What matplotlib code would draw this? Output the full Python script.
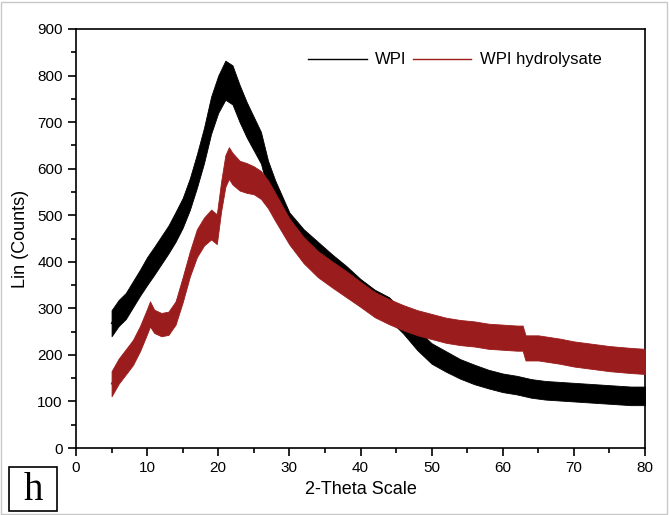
import matplotlib
matplotlib.use("Agg")
import matplotlib.pyplot as plt
from matplotlib.ticker import MultipleLocator
from matplotlib.patches import Rectangle

# values (2-theta in degrees, counts)
wpi_x = [5, 6, 7, 8, 9, 10, 11, 12, 13, 14, 15, 16, 17, 18, 19, 20, 21, 22, 23, 24,
         25, 26, 27, 28, 30, 32, 34, 36, 38, 40, 42, 44, 46, 48, 50, 52, 54, 56,
         58, 60, 62, 64, 66, 68, 70, 72, 75, 78, 80]
wpi_y = [268, 290, 305, 330, 355, 380, 402, 425, 448, 475, 505, 545, 595, 650, 715, 760, 790, 780, 740, 705,
         675, 645, 585, 545, 478, 442, 415, 390, 365, 338, 315, 300, 270, 232, 203, 186, 170, 158,
         148, 140, 135, 128, 124, 122, 120, 118, 115, 112, 112]
wpi_spread = [28, 28, 28, 28, 28, 30, 30, 30, 30, 32, 32, 34, 36, 38, 40, 40, 42, 42, 40, 38,
              36, 34, 32, 30, 28, 28, 28, 26, 26, 25, 25, 24, 24, 22, 22, 22, 21, 21,
              20, 20, 20, 20, 20, 20, 20, 20, 20, 20, 20]

hyd_x = [5, 6, 7, 8, 9, 10, 10.4, 11, 12, 13, 14, 15, 16, 17, 18, 19, 19.8, 20.4, 21, 21.5,
         22, 23, 24, 25, 26, 27, 28, 30, 32, 34, 36, 38, 40, 42, 44, 46, 48, 50,
         52, 54, 56, 58, 60, 62, 62.8, 63.2, 65, 68, 70, 72, 75, 78, 80]
hyd_y = [138, 165, 185, 205, 235, 272, 288, 272, 265, 268, 290, 340, 395, 440, 465, 480, 470, 540, 595, 612,
         600, 585, 580, 575, 565, 545, 518, 465, 425, 395, 373, 352, 330, 308, 293, 280, 269, 261,
         253, 248, 245, 240, 238, 236, 236, 215, 215, 208, 202, 198, 192, 188, 186]
hyd_spread = [27, 27, 27, 27, 27, 27, 27, 25, 25, 25, 25, 27, 27, 30, 30, 32, 32, 32, 34, 34,
              34, 32, 32, 30, 30, 30, 30, 28, 28, 28, 28, 28, 27, 27, 27, 27, 27, 27,
              27, 27, 27, 27, 27, 27, 27, 27, 27, 27, 27, 27, 27, 27, 27]

red = "#9b1c1c"
plt.rcParams['font.family'] = ['Liberation Sans', 'DejaVu Sans']

fig = plt.figure(figsize=(6.69, 5.15), dpi=100)
ax = fig.add_axes([76/669, 1 - 448/515, (645-76)/669, (448-29)/515])

ax.fill_between(wpi_x, [a - b for a, b in zip(wpi_y, wpi_spread)],
                [a + b for a, b in zip(wpi_y, wpi_spread)], color="black", lw=0.6, zorder=2)
ax.plot(wpi_x, wpi_y, color="black", lw=1, label="WPI", zorder=2)
ax.fill_between(hyd_x, [a - b for a, b in zip(hyd_y, hyd_spread)],
                [a + b for a, b in zip(hyd_y, hyd_spread)], color=red, lw=0.6, zorder=3)
ax.plot(hyd_x, hyd_y, color=red, lw=1, label="WPI hydrolysate", zorder=3)

ax.set_xlim(0, 80)
ax.set_ylim(0, 900)
ax.xaxis.set_major_locator(MultipleLocator(10))
ax.xaxis.set_minor_locator(MultipleLocator(5))
ax.yaxis.set_major_locator(MultipleLocator(100))
ax.yaxis.set_minor_locator(MultipleLocator(50))
ax.tick_params(which="major", direction="out", length=6, width=1.2, labelsize=11)
ax.tick_params(which="minor", direction="out", length=3.5, width=1.2)
for s in ax.spines.values():
    s.set_linewidth(1.2)

ax.set_xlabel("2-Theta Scale", fontsize=13, labelpad=4)
ax.set_ylabel("Lin (Counts)", fontsize=13, labelpad=6)

ax.legend(loc="upper right", ncol=2, frameon=False, fontsize=12, handlelength=3.5,
          columnspacing=0.4, handletextpad=0.5, bbox_to_anchor=(0.95, 0.98))

# panel letter
fig.patches.append(Rectangle((9/669, 1 - 511/515), 48/669, 44/515, transform=fig.transFigure,
                             fill=False, edgecolor="black", lw=1.2))
fig.text(33/669, 1 - 490/515, "h", family="Liberation Serif", fontsize=28,
         ha="center", va="center")

# light frame round the picture
fig.patches.append(Rectangle((1/669, 1/515), 666/669, 512/515, transform=fig.transFigure,
                             fill=False, edgecolor="#c8c8c8", lw=1))

fig.savefig("out.png", dpi=100)
